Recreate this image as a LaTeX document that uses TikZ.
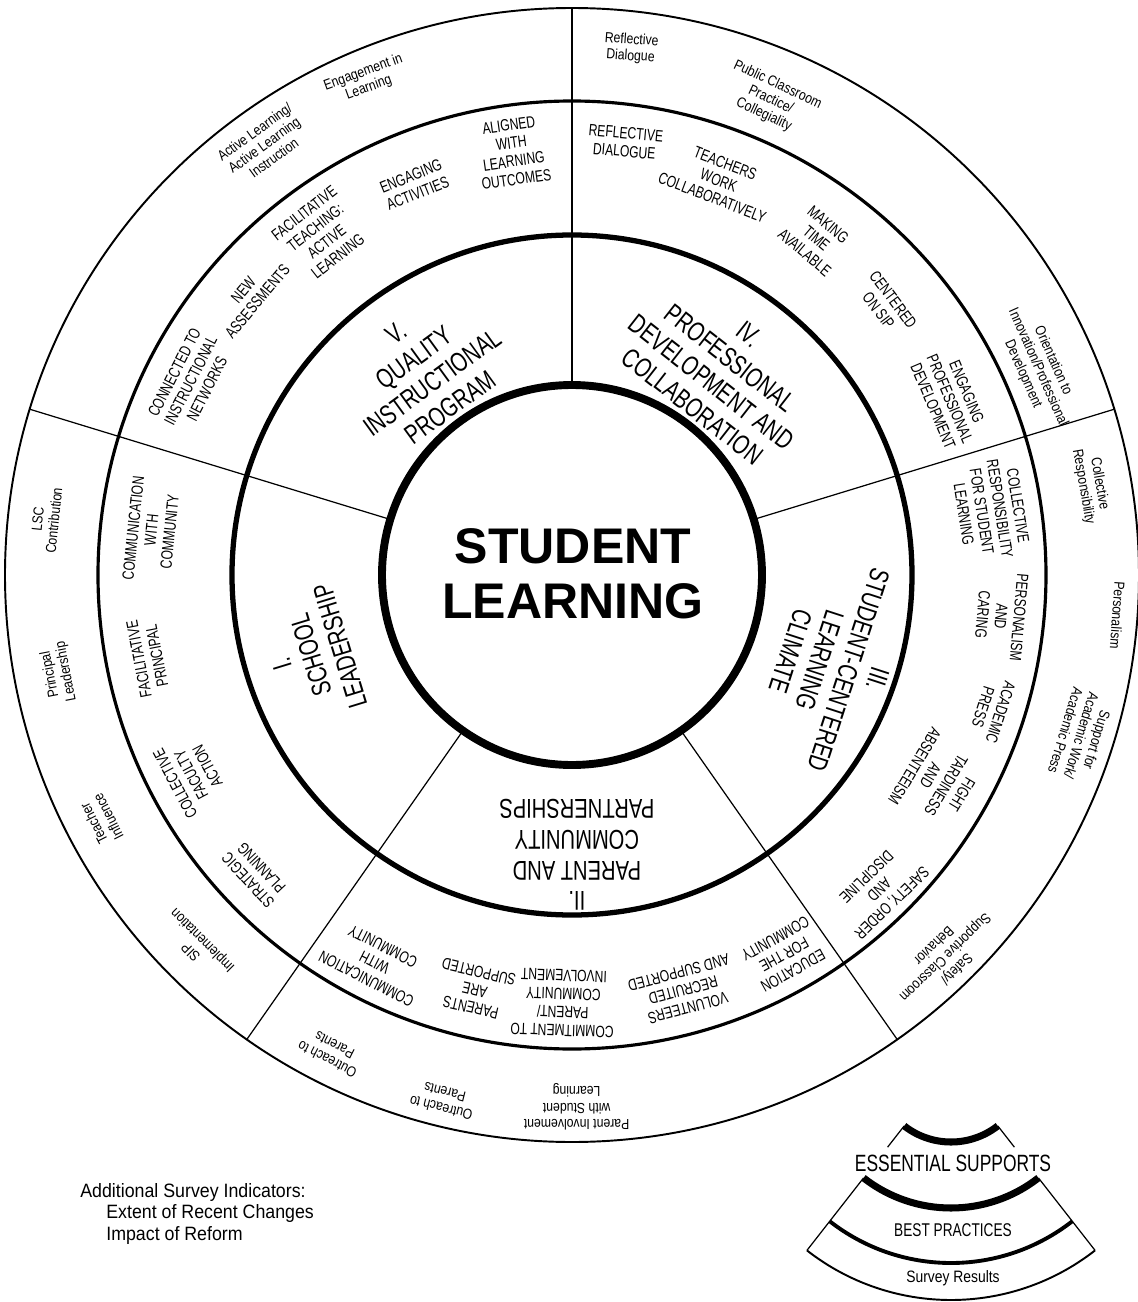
\documentclass[tikz,border=0pt]{standalone}
\usepackage{fontspec}
\setmainfont{Liberation Sans}
\newfontfamily\capsfont[FakeStretch=0.74]{Liberation Sans}
\newfontfamily\lowfont[FakeStretch=0.84]{Liberation Sans}
\newfontfamily\legfont[FakeStretch=0.92]{Liberation Sans}
\begin{document}
\begin{tikzpicture}[x=0.02cm,y=0.02cm,
  title/.style={font=\capsfont\fontsize{15.5}{17.4}\selectfont,align=center,inner sep=0pt},
  bp/.style={font=\capsfont\fontsize{9.3}{10.4}\selectfont,align=center,inner sep=0pt},
  sr/.style={font=\lowfont\fontsize{8.3}{9.3}\selectfont,align=center,inner sep=0pt},
  spoke/.style={line width=0.7pt},
  center/.style={font=\bfseries\fontsize{28.5}{31.5}\selectfont,align=center,inner sep=0pt},
  legcap/.style={font=\capsfont\fontsize{13.4}{15}\selectfont,inner sep=0pt},
  leglow/.style={font=\legfont\fontsize{11}{12.3}\selectfont,inner sep=0pt,anchor=base west}]
\useasboundingbox (-572,-727) rectangle (566,575);
\fill[white] (-572,-727) rectangle (566,575);
% rings
\draw[line width=1.1pt] (0,0) circle[radius=567];
\draw[line width=1.8pt] (0,0) circle[radius=474];
\draw[line width=3pt] (0,0) circle[radius=340];
\draw[line width=4.5pt] (0,0) circle[radius=190];
% spokes
\foreach \a/\n in {17/a,90/b,163/c,235/d,305/e}{
  \coordinate (sp\n1) at (\a:192);
  \coordinate (sp\n2) at (\a:567);
  \draw[spoke] (sp\n1) -- (sp\n2);
}
% centre
\node[center] (sl) at (1,1) {STUDENT\\LEARNING};
% essential supports
\node[title,rotate=36] (t5) at (126:253) {V.\\QUALITY\\INSTRUCTIONAL\\PROGRAM};
\node[title,rotate=-38] (t4) at (54:253) {IV.\\PROFESSIONAL\\DEVELOPMENT AND\\COLLABORATION};
\node[title,rotate=-108] (t3) at (-19:277) {III.\\STUDENT-CENTERED\\LEARNING\\CLIMATE};
\node[title,rotate=180] (t2) at (271:280) {II.\\PARENT AND\\COMMUNITY\\PARTNERSHIPS};
\node[title,rotate=107] (t1) at (197:273) {I.\\SCHOOL\\LEADERSHIP};
% best practices
\node[bp,rotate=8] (b1) at (98:427) {ALIGNED\\WITH\\LEARNING\\OUTCOMES};
\node[bp,rotate=22] (b2) at (112:421) {ENGAGING\\ACTIVITIES};
\node[bp,rotate=38] (b3) at (126.4:423) {FACILITATIVE\\TEACHING:\\ACTIVE\\LEARNING};
\node[bp,rotate=50] (b4) at (139:426) {NEW\\ASSESSMENTS};
\node[bp,rotate=63] (b5) at (153:428) {CONNECTED TO\\INSTRUCTIONAL\\NETWORKS};
\node[bp,rotate=-5] (b6) at (83:436) {REFLECTIVE\\DIALOGUE};
\node[bp,rotate=-21] (b7) at (69.6:421) {TEACHERS\\WORK\\COLLABORATIVELY};
\node[bp,rotate=-40] (b8) at (54:416) {MAKING\\TIME\\AVAILABLE};
\node[bp,rotate=-53] (b9) at (40.7:414) {CENTERED\\ON SIP};
\node[bp,rotate=-67] (b10) at (25:417) {ENGAGING\\PROFESSIONAL\\DEVELOPMENT};
\node[bp,rotate=-81] (b11) at (8.8:424) {COLLECTIVE\\RESPONSIBILITY\\FOR STUDENT\\LEARNING};
\node[bp,rotate=-95] (b12) at (-5.5:431) {PERSONALISM\\AND\\CARING};
\node[bp,rotate=-108] (b13) at (-17.8:441) {ACADEMIC\\PRESS};
\node[bp,rotate=-121] (b14) at (-29.3:420) {FIGHT\\TARDINESS\\AND\\ABSENTEEISM};
\node[bp,rotate=-136] (b15) at (-45.7:440) {SAFETY, ORDER\\AND\\DISCIPLINE};
\node[bp,rotate=-151] (b16) at (-60.8:435) {EDUCATION\\FOR THE\\COMMUNITY};
\node[bp,rotate=-165] (b17) at (-75:430) {VOLUNTEERS\\RECRUITED\\AND SUPPORTED};
\node[bp,rotate=178] (b18) at (-91.2:428) {COMMITMENT TO\\PARENT/\\COMMUNITY\\INVOLVEMENT};
\node[bp,rotate=167] (b19) at (-103.2:426) {PARENTS\\ARE\\SUPPORTED};
\node[bp,rotate=153] (b20) at (-117:435) {COMMUNICATION\\WITH\\COMMUNITY};
\node[bp,rotate=133] (b21) at (223.3:436) {STRATEGIC\\PLANNING};
\node[bp,rotate=118] (b22) at (207.7:430) {COLLECTIVE\\FACULTY\\ACTION};
\node[bp,rotate=101] (b23) at (191:432) {FACILITATIVE\\PRINCIPAL};
\node[bp,rotate=84] (b24) at (173.9:423) {COMMUNICATION\\WITH\\COMMUNITY};
% survey results
\node[sr,rotate=20] (s1) at (112.6:536) {Engagement in\\Learning};
\node[sr,rotate=36] (s2) at (125.6:529) {Active Learning/\\Active Learning\\Instruction};
\node[sr,rotate=-4] (s3) at (83.6:530) {Reflective\\Dialogue};
\node[sr,rotate=-25] (s4) at (67.3:515) {Public Classroom\\Practice/\\Collegiality};
\node[sr,rotate=-66] (s5) at (24:510) {Orientation to\\Innovation/Professional\\Development};
\node[sr,rotate=-80] (s6) at (9.8:527) {Collective\\Responsibility};
\node[sr,rotate=-94] (s7) at (-4.2:547) {Personalism};
\node[sr,rotate=-107] (s8) at (-17.5:534) {Support for\\Academic Work/\\Academic Press};
\node[sr,rotate=-136] (s9) at (-45.7:535) {Safety/\\Supportive Classroom\\Behavior};
\node[sr,rotate=180] (s10) at (-89.5:532) {Parent Involvement\\with Student\\Learning};
\node[sr,rotate=166] (s11) at (-103.8:541) {Outreach to\\Parents};
\node[sr,rotate=153] (s12) at (-116.8:535) {Outreach to\\Parents};
\node[sr,rotate=135] (s13) at (224.7:527) {SIP\\Implementation};
\node[sr,rotate=117] (s14) at (207.5:531) {Teacher\\Influence};
\node[sr,rotate=101] (s15) at (190.8:523) {Principal\\Leadership};
\node[sr,rotate=84] (s16) at (174:529) {LSC\\Contribution};
% legend left
\node[leglow] (la) at (-492,-622) {Additional Survey Indicators:};
\node[leglow] (lb) at (-466,-643) {Extent of Recent Changes};
\node[leglow] (lc) at (-466,-665) {Impact of Reform};
% legend wedge
\begin{scope}[shift={(379,-491)}]
  \draw[line width=4pt] (232:76) arc[start angle=232,end angle=308,radius=76];
  \draw[line width=4pt] (232:142) arc[start angle=232,end angle=308,radius=142];
  \draw[line width=2.2pt] (232:197) arc[start angle=232,end angle=308,radius=197];
  \draw[line width=1.1pt] (232:234) arc[start angle=232,end angle=308,radius=234];
  \coordinate (wl1) at (232:76); \coordinate (wl2) at (232:103);
  \coordinate (wr1) at (308:76); \coordinate (wr2) at (308:103);
  \coordinate (wl3) at (232:142); \coordinate (wl4) at (232:234);
  \coordinate (wr3) at (308:142); \coordinate (wr4) at (308:234);
  \draw[spoke] (wl1) -- (wl2); \draw[spoke] (wr1) -- (wr2);
  \draw[spoke] (wl3) -- (wl4); \draw[spoke] (wr3) -- (wr4);
  \node[legcap] (les) at (2,-97) {ESSENTIAL SUPPORTS};
  \node[font=\capsfont\fontsize{10.5}{11}\selectfont,inner sep=0pt] (lbp) at (2,-164) {BEST PRACTICES};
  \node[font=\lowfont\fontsize{9.4}{10}\selectfont,inner sep=0pt] (lsr) at (2,-212) {Survey Results};
\end{scope}
\end{tikzpicture}
\end{document}
